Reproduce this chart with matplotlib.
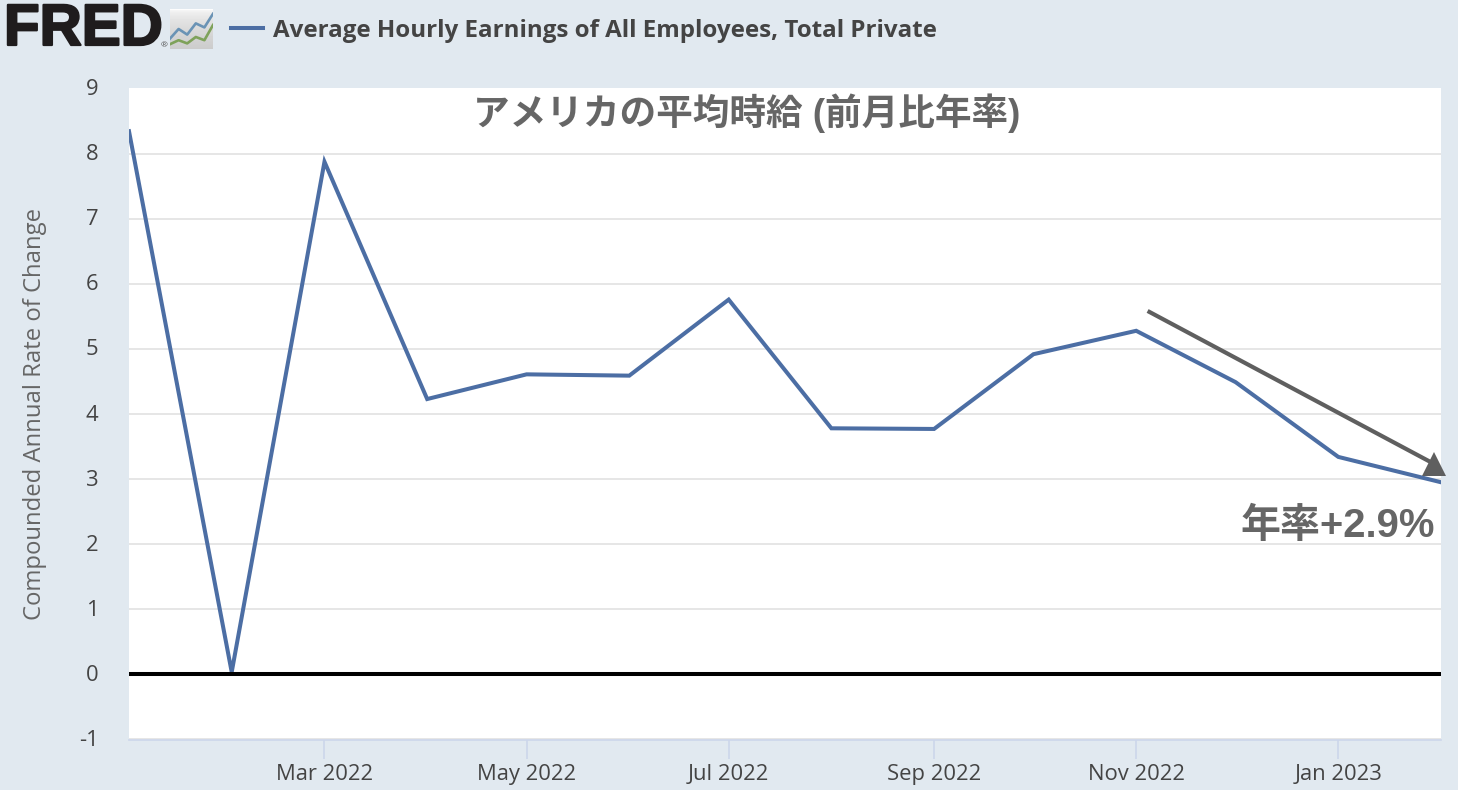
import matplotlib
matplotlib.use("Agg")
import matplotlib.pyplot as plt
import matplotlib.dates as mdates
import matplotlib.patheffects as pe
import matplotlib.transforms as mtrans
import numpy as np
import pandas as pd

W, H = 1458, 790
BG = "#e1e9f0"
LINE = "#4c6ea4"
GRAY = "#666666"
TEXT = "#444444"

months = pd.date_range("2022-01-01", "2023-02-01", freq="MS")
earnings = [8.35, 0.03, 7.88, 4.23, 4.61, 4.59, 5.76, 3.78, 3.77, 4.92, 5.28, 4.49, 3.34, 2.95]
y_ticks = [-1, 0, 1, 2, 3, 4, 5, 6, 7, 8, 9]
x_ticks = pd.to_datetime(["2022-03-01", "2022-05-01", "2022-07-01", "2022-09-01", "2022-11-01", "2023-01-01"])
arrow_x = pd.to_datetime(["2022-11-05", "2023-01-30"])
arrow_y = [5.57, 3.23]

# little logo chart, values only read by eye
icon_blue = [1.3, 2.5, 1.8, 3.2, 2.7, 4.4]
icon_green = [0.6, 1.1, 0.7, 1.5, 1.1, 3.0]

plt.rcParams["font.family"] = ["Open Sans", "DejaVu Sans"]
plt.rcParams["axes.unicode_minus"] = False
CJK = ["Liberation Sans", "Noto Sans CJK JP", "DejaVu Sans"]

fig = plt.figure(figsize=(W / 100, H / 100), dpi=100, facecolor=BG)
ax = fig.add_axes([129 / W, 1 - 740 / H, (1441 - 129) / W, (740 - 88) / H])

ax.plot(months, earnings, color=LINE, lw=2.9, solid_joinstyle="miter", zorder=3)
ax.axhline(0, color="black", lw=2.9, zorder=4)

ax.set_xlim(months[0], months[-1])
ax.set_ylim(-1.015, 9.015)
ax.set_yticks(y_ticks)
ax.set_xticks(x_ticks)
ax.xaxis.set_major_formatter(mdates.DateFormatter("%b %Y"))
ax.grid(axis="y", color="#e6e6e6", lw=1.4)
ax.yaxis.get_gridlines()[-1].set_visible(False)
ax.set_axisbelow(True)
for side in ["top", "left", "right"]:
    ax.spines[side].set_visible(False)
ax.spines["bottom"].set_color("#ccd6eb")
ax.spines["bottom"].set_linewidth(1.2)
ax.tick_params(axis="x", length=14, width=1.2, color="#ccd6eb", labelsize=15.8, labelcolor=TEXT, pad=3)
ax.tick_params(axis="y", length=0, labelsize=15.8, labelcolor=TEXT, pad=22)
# y labels sit a touch above their gridlines
for lab in ax.get_yticklabels():
    lab.set_transform(lab.get_transform() + mtrans.ScaledTranslation(0, 1.5 / 100, fig.dpi_scale_trans))
ax.set_ylabel("Compounded Annual Rate of Change", fontsize=17.2, color=GRAY, labelpad=23)

ax.text(0.471, 0.962, "アメリカの平均時給 (前月比年率)", transform=ax.transAxes, ha="center", va="center",
        fontsize=26.4, fontweight="bold", color=GRAY, family=CJK)
ax.text(0.9955, 0.328, "年率+2.9%", transform=ax.transAxes, ha="right", va="center",
        fontsize=28.8, fontweight="bold", color=GRAY, family=CJK)

ax.plot(arrow_x, arrow_y, color="#5f5f5f", lw=3, zorder=5, clip_on=False)
ax.plot(arrow_x[-1:], arrow_y[-1:], marker="^", ms=17, color="#5f5f5f", mew=0, zorder=5, clip_on=False)

# header
fig.text(4 / W, 1 - 30 / H, "FRED", fontsize=42, fontweight="bold", color="#1f1c1d", va="center",
         family="Liberation Sans", path_effects=[pe.withStroke(linewidth=1.6, foreground="#1f1c1d")])
fig.text(161 / W, 1 - 46 / H, "®", fontsize=6, color="#555555", va="center")
fig.add_artist(plt.Line2D([231 / W, 263 / W], [1 - 28 / H] * 2, color=LINE, lw=2.9))
fig.text(273 / W, 1 - 31 / H, "Average Hourly Earnings of All Employees, Total Private",
         fontsize=17.35, fontweight="bold", color=TEXT, va="center")

icon = fig.add_axes([170 / W, 1 - 49 / H, 43 / W, 40 / H])
icon.imshow(0.99 - np.linspace(0, 1, 40).reshape(-1, 1) ** 0.5 * 0.19, cmap="gray", vmin=0, vmax=1,
            aspect="auto", extent=[0, 5, 0, 5])
icon.plot(range(6), icon_blue, color="#6a93b5", lw=1.9)
icon.plot(range(6), icon_green, color="#7ea25a", lw=1.9)
icon.set_xlim(0, 5)
icon.set_ylim(0, 5)
icon.axis("off")

fig.savefig("out.png", dpi=100, facecolor=BG)
